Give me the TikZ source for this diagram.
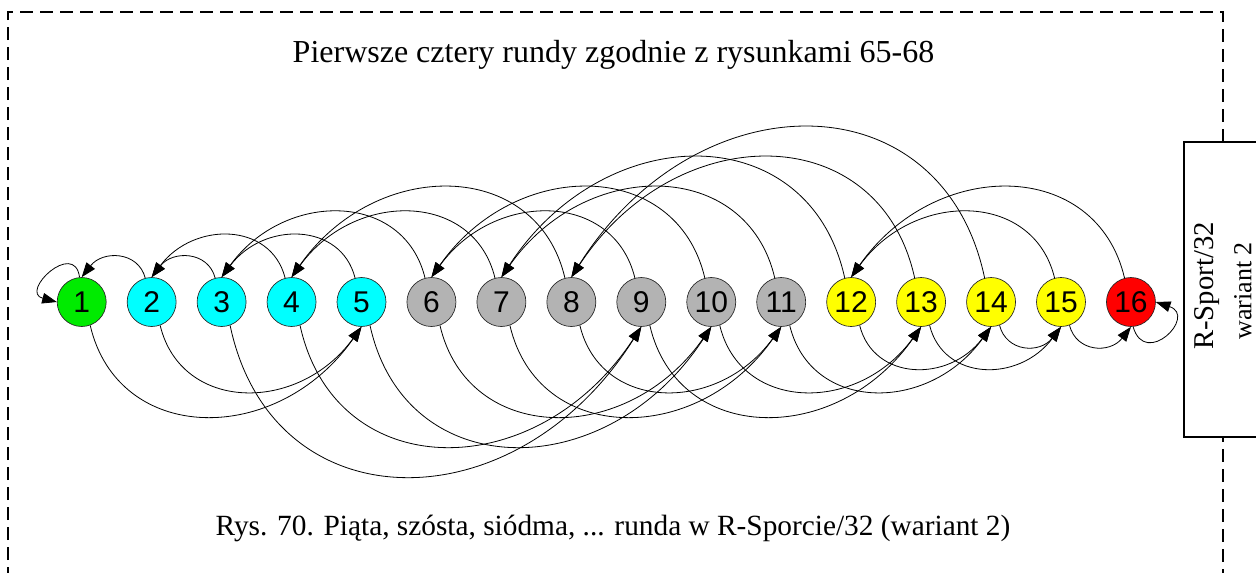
\documentclass[tikz,border=0pt]{standalone}
\usepackage{fontspec}
\setmainfont{Liberation Serif}
\newfontfamily\arialf{Liberation Sans}
\usetikzlibrary{arrows.meta,calc}
\definecolor{cgreen}{RGB}{0,235,0}
\definecolor{ccyan}{RGB}{0,255,255}
\definecolor{cgrey}{RGB}{179,179,179}
\definecolor{cyell}{RGB}{255,255,0}
\definecolor{cred}{RGB}{255,0,0}
\begin{document}
\begin{tikzpicture}[x=0.75pt,y=-0.75pt,
  tnode/.style={circle,draw=black!85,line width=0.5pt,minimum size=36.75pt,inner sep=0pt,
    font=\arialf\fontsize{22.5}{22.5}\selectfont},
  link/.style={line width=0.6pt,-{Triangle[length=11pt,width=8pt]}},
  frame/.style={line width=1.5pt,dash pattern=on 10pt off 5pt},
  boxline/.style={line width=1.5pt,fill=white},
]
\useasboundingbox (0,0) rectangle (1256,572);
\clip (0,0) rectangle (1256,572);
\draw[frame] (8,600) -- (8,12) -- (1223,12) -- (1223,600);

\foreach \i/\c in {1/cgreen,2/ccyan,3/ccyan,4/ccyan,5/ccyan,6/cgrey,7/cgrey,8/cgrey,9/cgrey,10/cgrey,11/cgrey,12/cyell,13/cyell,14/cyell,15/cyell,16/cred}
  \node[tnode,fill=\c] (n\i) at ({81.7+69.95*(\i-1)},302) {\i};

% winners (top arcs)
\foreach \s/\d/\h in {2/1/27,3/2/27,4/2/56,5/3/56,6/3/87,7/4/87,8/4/120,9/6/87,10/6/120,11/7/120,12/7/160,13/8/160,14/8/200,15/12/87,16/12/120}
  \draw[link] (n\s.105) .. controls +({-7*(\s-\d)},-\h) and +({21*(\s-\d)},-\h) .. (n\d.north);

% losers (bottom arcs)
\foreach \s/\d/\h in {1/5/120,2/5/87,3/9/200,4/9/160,5/10/160,6/10/120,7/11/120,8/11/87,9/13/120,10/13/87,11/14/87,12/14/56,13/15/56,14/15/27,15/16/27}
  \draw[link] (n\s.-70) .. controls +({7*(\d-\s)},\h) and +({-21*(\d-\s)},\h) .. (n\d.south);

% self loops
\draw[link] (n1.95) .. controls +(-5,-38) and +(-38,-10) .. (n1.west);
\draw[link] (n16.-85) .. controls +(12,42) and +(42,14) .. (n16.east);

% side box
\draw[boxline] (1183.5,141.5) rectangle (1290,437);
\node[rotate=90,font=\fontsize{21.5}{21.5}\selectfont] (rs) at (1207,286) {R-Sport/32};
\node[rotate=90,font=\fontsize{19.5}{19.5}\selectfont] (wr) at (1243,291) {wariant 2};

\node[anchor=base,font=\fontsize{24}{24}\selectfont] (title) at (613.5,62) {Pierwsze cztery rundy zgodnie z rysunkami 65-68};
\node[anchor=base,font=\fontsize{22}{22}\selectfont] (caption) at (613,535) {Rys. 70. Piąta, szósta, siódma, ... runda w R-Sporcie/32 (wariant 2)};
\end{tikzpicture}
\end{document}
